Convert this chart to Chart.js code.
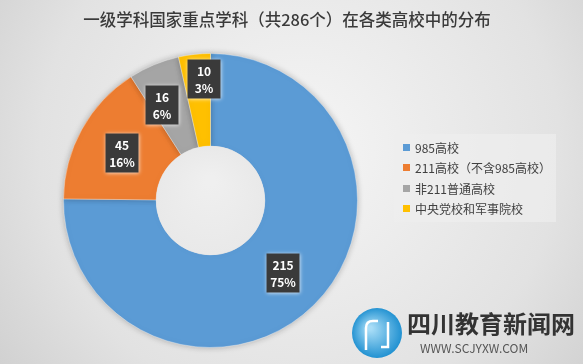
<!DOCTYPE html>
<html>
<head>
<meta charset="utf-8">
<script src="https://cdn.jsdelivr.net/npm/chart.js@4/dist/chart.umd.min.js"></script>
<style>
html,body{margin:0;padding:0;}
body{width:583px;height:364px;overflow:hidden;}
#wrap{position:relative;width:583px;height:364px;}
canvas{display:block;}
</style>
</head>
<body>
<div id="wrap"><canvas id="c" width="583" height="364"></canvas></div>
<script>
const chartTitle = '一级学科国家重点学科（共286个）在各类高校中的分布';
const categories = ['985高校', '211高校（不含985高校）', '非211普通高校', '中央党校和军事院校'];
const counts = [215, 45, 16, 10];
const percents = ['75%', '16%', '6%', '3%'];
const colors = ['#5B9BD5', '#ED7D31', '#A5A5A5', '#FFC000'];

const FONT = '"Noto Sans CJK SC", "Noto Sans", sans-serif';

const bgPlugin = {
  id: 'bg',
  beforeDraw(chart) {
    const ctx = chart.ctx;
    const w = chart.width, h = chart.height;
    ctx.save();
    const g = ctx.createRadialGradient(300, 150, 20, 300, 150, 420);
    g.addColorStop(0, '#f4f4f4');
    g.addColorStop(0.6, '#e2e2e2');
    g.addColorStop(1, '#c9c9c9');
    ctx.fillStyle = g;
    ctx.fillRect(0, 0, w, h);
    // title
    ctx.fillStyle = '#3a3a3a';
    ctx.font = '500 16.5px ' + FONT;
    ctx.textAlign = 'center';
    ctx.textBaseline = 'middle';
    ctx.fillText(chartTitle, 287, 20);
    ctx.restore();
  },
  beforeDatasetsDraw(chart) {
    const ctx = chart.ctx;
    ctx.save();
    ctx.shadowColor = 'rgba(0,0,0,0.25)';
    ctx.shadowBlur = 6;
  },
  afterDatasetsDraw(chart) {
    const ctx = chart.ctx;
    ctx.restore();
    const meta = chart.getDatasetMeta(0);
    // inner hole fill
    const a0 = meta.data[0];
    ctx.save();
    const hg = ctx.createRadialGradient(a0.x, a0.y - 20, 5, a0.x, a0.y, a0.innerRadius);
    hg.addColorStop(0, '#efefef');
    hg.addColorStop(1, '#e9e9e9');
    ctx.fillStyle = hg;
    ctx.beginPath();
    ctx.arc(a0.x, a0.y, a0.innerRadius, 0, Math.PI * 2);
    ctx.fill();
    ctx.restore();
    // data labels
    meta.data.forEach((arc, i) => {
      const mid = (arc.startAngle + arc.endAngle) / 2;
      let r = (arc.innerRadius + arc.outerRadius) / 2;
      let px = arc.x + Math.cos(mid) * r;
      let py = arc.y + Math.sin(mid) * r;
      if (i === 0) { px = 283; py = 273; }
      if (i === 1) { px = 122; py = 153; }
      if (i === 2) { px = 162; py = 105; }
      if (i === 3) { px = 204; py = 79; }
      const bw = 33, bh = 39;
      ctx.save();
      ctx.shadowColor = 'rgba(255,255,255,0.8)';
      ctx.shadowBlur = 4;
      ctx.fillStyle = '#3a3a3a';
      ctx.fillRect(px - bw / 2, py - bh / 2, bw, bh);
      ctx.restore();
      ctx.save();
      ctx.fillStyle = '#ffffff';
      ctx.font = 'bold 12px ' + FONT;
      ctx.textAlign = 'center';
      ctx.textBaseline = 'middle';
      ctx.fillText(String(counts[i]), px, py - 8);
      ctx.fillText(percents[i], px, py + 9);
      ctx.restore();
    });
    // legend
    ctx.save();
    ctx.fillStyle = 'rgba(238,238,238,0.7)';
    ctx.fillRect(394, 134, 162, 88);
    ctx.font = '12px ' + FONT;
    ctx.textBaseline = 'middle';
    ctx.textAlign = 'left';
    const ys = [148, 168, 189, 209];
    categories.forEach((c, i) => {
      ctx.fillStyle = colors[i];
      ctx.fillRect(403, ys[i] - 4, 7, 7);
      ctx.fillStyle = '#404040';
      ctx.fillText(c, 415, ys[i]);
    });
    ctx.restore();
    // watermark
    ctx.save();
    const lg = ctx.createRadialGradient(370, 328, 2, 377, 333, 26);
    lg.addColorStop(0, '#a8ddf7');
    lg.addColorStop(1, '#1d8fd0');
    ctx.fillStyle = lg;
    ctx.beginPath();
    ctx.arc(377, 333, 25, 0, Math.PI * 2);
    ctx.fill();
    ctx.strokeStyle = '#ffffff';
    ctx.lineWidth = 2.5;
    ctx.beginPath();
    ctx.moveTo(366, 350); ctx.lineTo(366, 328); ctx.quadraticCurveTo(366, 321, 373, 321); ctx.lineTo(378, 321);
    ctx.stroke();
    ctx.beginPath();
    ctx.moveTo(381, 347); ctx.lineTo(388, 347); ctx.lineTo(388, 322);
    ctx.stroke();
    ctx.fillStyle = '#333333';
    ctx.font = 'bold 24px ' + FONT;
    ctx.textBaseline = 'middle';
    ctx.fillText('四川教育新闻网', 407, 324);
    ctx.font = '12px ' + FONT;
    ctx.fillStyle = '#555555';
    ctx.fillText('WWW.SCJYXW.COM', 420, 348);
    ctx.restore();
  }
};

new Chart(document.getElementById('c'), {
  type: 'doughnut',
  data: {
    labels: categories,
    datasets: [{
      data: counts,
      backgroundColor: colors,
      borderColor: 'rgba(255,255,255,0.35)',
      borderWidth: 1
    }]
  },
  options: {
    responsive: false,
    animation: false,
    cutout: '37%',
    rotation: 0,
    layout: { padding: { top: 53, bottom: 16, left: 63, right: 225 } },
    plugins: {
      legend: { display: false },
      title: { display: false },
      tooltip: { enabled: false }
    }
  },
  plugins: [bgPlugin]
});
</script>
</body>
</html>
